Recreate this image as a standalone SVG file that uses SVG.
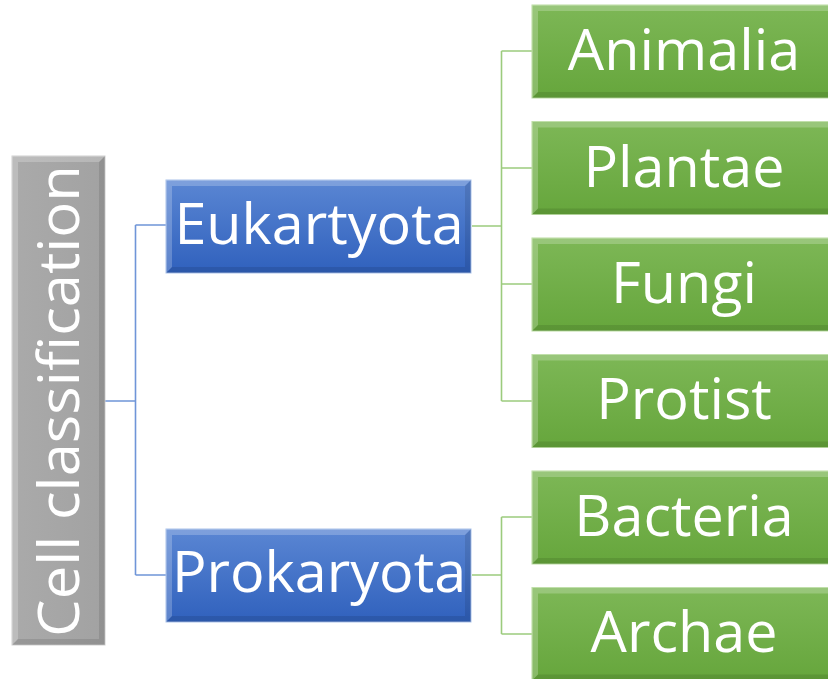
<svg xmlns="http://www.w3.org/2000/svg" width="828" height="679" viewBox="0 0 828 679">
<defs>
<linearGradient id="gGray" x1="0" y1="0" x2="1" y2="0">
<stop offset="0" stop-color="#aaaaaa"/><stop offset="1" stop-color="#a2a2a2"/>
</linearGradient>
<linearGradient id="gBlue" x1="0" y1="0" x2="0" y2="1">
<stop offset="0" stop-color="#5a86d3"/><stop offset="1" stop-color="#3061bd"/>
</linearGradient>
<linearGradient id="gGreen" x1="0" y1="0" x2="0" y2="1">
<stop offset="0" stop-color="#7db756"/><stop offset="1" stop-color="#66a63c"/>
</linearGradient>
<style>
.t{font-family:"Open Sans","Noto Sans","DejaVu Sans",sans-serif;fill:#ffffff;text-anchor:middle;font-size:57.5px}
.hl{fill:#ffffff;opacity:0.22}
.sh{fill:#000000;opacity:0.1}
.blue{fill:url(#gBlue);stroke:#a9c1ea;stroke-width:1}
.green{fill:url(#gGreen);stroke:#b9dca0;stroke-width:1}
.gray{fill:url(#gGray);stroke:#cfcfcf;stroke-width:1}
.cb{fill:none;stroke:#6f95d8;stroke-width:1.6}
.cg{fill:none;stroke:#9ccb7d;stroke-width:1.6}
</style>
</defs>
<rect width="828" height="679" fill="#ffffff"/>
<g id="connectors">
<path class="cb" d="M105,401 H135.5 M135.5,225 V575 M135.5,225 H166 M135.5,575 H166"/>
<path class="cg" d="M472,226 H501.5 M501.5,51 V401 M501.5,51 H532 M501.5,168 H532 M501.5,284 H532 M501.5,401 H532"/>
<path class="cg" d="M472,575 H501.5 M501.5,517 V634 M501.5,517 H532 M501.5,634 H532"/>
</g>
<g id="root">
<rect class="gray" x="12" y="156" width="93" height="489"/>
<polygon class="hl" points="12,156 105,156 99,162 18,162 18,639 12,645"/>
<polygon class="sh" points="105,156 105,645 12,645 18,639 99,639 99,162"/>
<text class="t" transform="translate(79,401) rotate(-90)" font-size="62" textLength="472" lengthAdjust="spacingAndGlyphs">Cell classification</text>
</g>
<g id="eukaryota">
<rect class="blue" x="166" y="180" width="305" height="93"/>
<polygon class="hl" points="166,180 471,180 465,186 172,186 172,267 166,273"/>
<polygon class="sh" points="471,180 471,273 166,273 172,267 465,267 465,186"/>
<text class="t" x="319" y="244">Eukartyota</text>
</g>
<g id="prokaryota">
<rect class="blue" x="166" y="529" width="305" height="93"/>
<polygon class="hl" points="166,529 471,529 465,535 172,535 172,616 166,622"/>
<polygon class="sh" points="471,529 471,622 166,622 172,616 465,616 465,535"/>
<text class="t" x="319" y="592">Prokaryota</text>
</g>
<g id="animalia">
<rect class="green" x="532" y="5" width="305" height="93"/>
<polygon class="hl" points="532,5 837,5 831,11 538,11 538,92 532,98"/>
<polygon class="sh" points="837,5 837,98 532,98 538,92 831,92 831,11"/>
<text class="t" x="684" y="70">Animalia</text>
</g>
<g id="plantae">
<rect class="green" x="532" y="121.5" width="305" height="93"/>
<polygon class="hl" points="532,121.5 837,121.5 831,127.5 538,127.5 538,208.5 532,214.5"/>
<polygon class="sh" points="837,121.5 837,214.5 532,214.5 538,208.5 831,208.5 831,127.5"/>
<text class="t" x="684" y="187">Plantae</text>
</g>
<g id="fungi">
<rect class="green" x="532" y="238" width="305" height="93"/>
<polygon class="hl" points="532,238 837,238 831,244 538,244 538,325 532,331"/>
<polygon class="sh" points="837,238 837,331 532,331 538,325 831,325 831,244"/>
<text class="t" x="684" y="303">Fungi</text>
</g>
<g id="protist">
<rect class="green" x="532" y="354.5" width="305" height="93"/>
<polygon class="hl" points="532,354.5 837,354.5 831,360.5 538,360.5 538,441.5 532,447.5"/>
<polygon class="sh" points="837,354.5 837,447.5 532,447.5 538,441.5 831,441.5 831,360.5"/>
<text class="t" x="684" y="419">Protist</text>
</g>
<g id="bacteria">
<rect class="green" x="532" y="471" width="305" height="93"/>
<polygon class="hl" points="532,471 837,471 831,477 538,477 538,558 532,564"/>
<polygon class="sh" points="837,471 837,564 532,564 538,558 831,558 831,477"/>
<text class="t" x="684" y="536">Bacteria</text>
</g>
<g id="archae">
<rect class="green" x="532" y="587.5" width="305" height="93"/>
<polygon class="hl" points="532,587.5 837,587.5 831,593.5 538,593.5 538,674.5 532,680.5"/>
<polygon class="sh" points="837,587.5 837,680.5 532,680.5 538,674.5 831,674.5 831,593.5"/>
<text class="t" x="684" y="652">Archae</text>
</g>
</svg>
